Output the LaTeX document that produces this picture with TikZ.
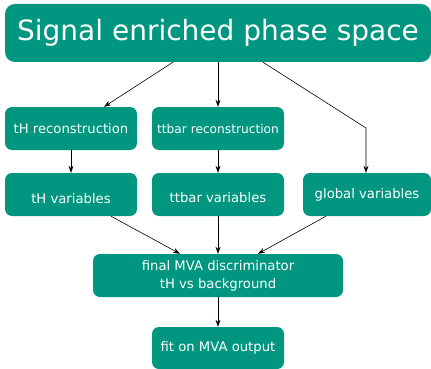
\documentclass[tikz,border=0pt]{standalone}
\usepackage{fontspec}
\setmainfont{DejaVu Sans}
\usetikzlibrary{arrows.meta,calc}
\definecolor{boxteal}{RGB}{0,150,128}
\begin{document}
\begin{tikzpicture}[x=1pt,y=1pt,
  box/.style={fill=boxteal, text=white, rounded corners=7pt, inner sep=0pt,
    minimum width=132pt, minimum height=43pt, align=center, font=\fontsize{13.2}{18.5}\selectfont},
  link/.style={-{Stealth[length=7pt,width=5pt]}, line width=0.6pt, black}]
\useasboundingbox (0,0) rectangle (431,-369);

\node[box, minimum width=426pt, minimum height=58pt, rounded corners=10pt,
  font=\fontsize{28}{32}\selectfont] (top) at (218,-33) {Signal enriched phase space};

\node[box] (thr) at (71,-128.5) {tH reconstruction};
\node[box, font=\fontsize{12.2}{15}\selectfont] (ttr) at (218,-128.5) {ttbar reconstruction};

\node[box] (thv) at (71,-194.5) {\raisebox{-4pt}[\height][\depth]{tH variables}};
\node[box] (ttv) at (218,-194.5) {\raisebox{-3pt}[\height][\depth]{ttbar variables}};
\node[box, minimum width=128pt] (glob) at (367,-194.5) {global variables};

\node[box, minimum width=250pt] (mva) at (218,-275.5) {\raisebox{-1pt}[\height][\depth]{final MVA discriminator}\\tH vs background};
\node[box, minimum height=42pt] (fit) at (218,-348) {fit on MVA output};

% from the phase-space selection
\draw[link] ([xshift=-45pt]top.south) -- ([xshift=33pt]thr.north);
\draw[link] (top.south) -- (ttr.north);
\coordinate (bend) at ([xshift=-1pt]glob.north |- 0,-128);
\draw[link] ([xshift=45pt]top.south) -- (bend) -- ([xshift=-1pt]glob.north);

% reconstruction to variables
\draw[link] (thr) -- (thv);
\draw[link] (ttr) -- (ttv);

% variables into the discriminator
\draw[link] ([xshift=40pt]thv.south) -- ([xshift=-38pt]mva.north);
\draw[link] (ttv) -- (mva);
\draw[link] ([xshift=-41pt]glob.south) -- ([xshift=40pt]mva.north);

% discriminator to fit
\draw[link] (mva) -- (fit);
\end{tikzpicture}
\end{document}
